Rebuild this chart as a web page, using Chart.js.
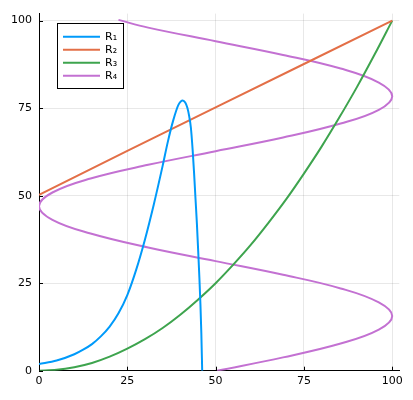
<!DOCTYPE html>
<html>
<head>
<meta charset="utf-8">
<script src="https://cdn.jsdelivr.net/npm/chart.js@4"></script>
<style>
html,body{margin:0;padding:0;background:#fff;}
#wrap{width:413px;height:400px;position:relative;}
</style>
</head>
<body>
<div id="wrap"><canvas id="c" width="413" height="400"></canvas></div>
<script>
// ---- data ----
const seriesLabels = ["R\u2081", "R\u2082", "R\u2083", "R\u2084"];
const seriesColors = ["#009AFA", "#E36F47", "#3EA44E", "#C371D2"];
const tickValues = [0, 25, 50, 75, 100];

const r1X = [0, 5, 10, 12.5, 15, 17.5, 20, 22.5, 25, 27.5, 30, 32.5, 35, 36.5, 38, 39.5, 40.7, 41.4, 42, 42.5, 43, 43.5, 43.9, 44.3, 44.7, 45.1, 45.4, 45.7, 45.95, 46.2];
const r1Y = [1.9, 2.9, 4.7, 6.0, 7.6, 9.8, 12.6, 16.4, 21.6, 28.8, 37.5, 47.5, 58.5, 65.5, 71.5, 76, 77.2, 76.6, 75.1, 72.8, 69.4, 63, 56.5, 49.2, 42, 33.5, 26.7, 19, 11, 0];

const r2X = [0, 25, 50, 75, 100];
const r2Y = [50.2, 62.8, 75.2, 87.6, 100];

const r3X = [0, 5, 10, 15, 20, 25, 30, 35, 40, 45, 50, 55, 60, 65, 70, 75, 80, 85, 90, 95, 100];
const r3Y = [0, 0.25, 1, 2.2, 4, 6.3, 9, 12.2, 16, 20.3, 25, 30.3, 36, 42.3, 49, 56.3, 64, 72.3, 81, 90.3, 100];

const r4X = [50.4, 69.1, 85.4, 96.2, 100, 96.2, 85.4, 69.1, 50, 30.9, 14.6, 3.8, 0, 3.8, 14.6, 30.9, 50, 69.1, 85.4, 96.2, 100, 96.2, 85.4, 69.1, 50, 30.9, 22.5];
const r4Y = [0, 3.8, 7.75, 11.7, 15.6, 19.5, 23.5, 27.4, 31.3, 35.2, 39.2, 43.1, 47.0, 50.9, 54.9, 58.8, 62.7, 66.6, 70.6, 74.5, 78.4, 82.3, 86.3, 90.2, 94.1, 98.0, 100.2];

const axisMin = 0, axisMax = 102;

function pts(xs, ys){ return xs.map((x,i)=>({x:x, y:ys[i]})); }

const allX = [r1X, r2X, r3X, r4X];
const allY = [r1Y, r2Y, r3Y, r4Y];
const interp = ['monotone', 'default', 'monotone', 'default'];
const tensions = [0.4, 0, 0.4, 0.4];

const datasets = seriesLabels.map((lab, i) => ({
  label: lab,
  data: pts(allX[i], allY[i]),
  showLine: true,
  borderColor: seriesColors[i],
  backgroundColor: seriesColors[i],
  borderWidth: 2,
  pointRadius: 0,
  pointHoverRadius: 0,
  cubicInterpolationMode: interp[i],
  tension: tensions[i],
  fill: false
}));

const FONT = "'DejaVu Sans', sans-serif";

const innerTicks = {
  id: 'innerTicks',
  afterDatasetsDraw(chart){
    const ctx = chart.ctx, xs = chart.scales.x, ys = chart.scales.y, a = chart.chartArea;
    ctx.save();
    ctx.strokeStyle = '#000';
    ctx.lineWidth = 1;
    ctx.beginPath();
    tickValues.forEach(v => {
      const px = Math.round(xs.getPixelForValue(v)) + 0.5;
      ctx.moveTo(px, a.bottom); ctx.lineTo(px, a.bottom - 4);
      const py = Math.round(ys.getPixelForValue(v)) + 0.5;
      ctx.moveTo(a.left, py); ctx.lineTo(a.left + 4, py);
    });
    ctx.stroke();
    ctx.restore();
  }
};

const boxLegend = {
  id: 'boxLegend',
  afterDraw(chart){
    const ctx = chart.ctx;
    const bx = 57.5, by = 23.5, bw = 66, bh = 65;
    ctx.save();
    ctx.fillStyle = '#fff';
    ctx.fillRect(bx, by, bw, bh);
    ctx.strokeStyle = '#000';
    ctx.lineWidth = 1;
    ctx.strokeRect(bx, by, bw, bh);
    ctx.font = "11px " + FONT;
    ctx.textBaseline = 'middle';
    ctx.textAlign = 'left';
    chart.data.datasets.forEach((ds, i) => {
      const y = 36.7 + 13 * i;
      ctx.strokeStyle = ds.borderColor;
      ctx.lineWidth = 2;
      ctx.beginPath();
      ctx.moveTo(63, y); ctx.lineTo(100, y);
      ctx.stroke();
      ctx.fillStyle = '#000';
      ctx.fillText(ds.label, 105, y + 0.5);
    });
    ctx.restore();
  }
};

new Chart(document.getElementById('c'), {
  type: 'scatter',
  data: { datasets },
  options: {
    responsive: false,
    animation: false,
    events: [],
    layout: { padding: { left: 0, right: 13.7, top: 11.7, bottom: 0 } },
    plugins: { legend: { display: false }, tooltip: { enabled: false } },
    scales: {
      x: {
        type: 'linear', min: axisMin, max: axisMax,
        afterFit(s){ s.height = 29.3; },
        afterBuildTicks(s){ s.ticks = tickValues.map(v => ({value: v})); },
        ticks: { includeBounds: false, stepSize: 25, padding: 4, color: '#000', font: { family: FONT, size: 11 }, maxRotation: 0 },
        grid: { color: 'rgba(0,0,0,0.09)', drawTicks: false, lineWidth: 1 },
        border: { display: true, color: '#000', width: 1 }
      },
      y: {
        type: 'linear', min: axisMin, max: axisMax,
        afterFit(s){ s.width = 39; },
        afterBuildTicks(s){ s.ticks = tickValues.map(v => ({value: v})); },
        ticks: { includeBounds: false, stepSize: 25, padding: 7, color: '#000', font: { family: FONT, size: 11 } },
        grid: { color: 'rgba(0,0,0,0.09)', drawTicks: false, lineWidth: 1 },
        border: { display: true, color: '#000', width: 1 }
      }
    }
  },
  plugins: [innerTicks, boxLegend]
});
</script>
</body>
</html>
